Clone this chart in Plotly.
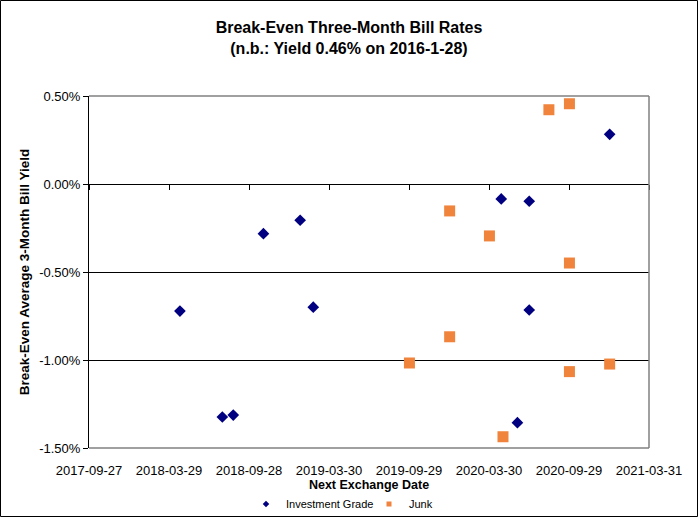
import plotly.graph_objects as go

# Data
ig_dates = ["2018-04-23", "2018-07-29", "2018-08-23", "2018-10-31", "2019-01-23",
            "2019-02-22", "2020-04-27", "2020-06-30", "2020-06-30", "2020-06-03",
            "2020-12-31"]
ig_yield = [-0.722, -1.324, -1.313, -0.282, -0.206, -0.700, -0.085, -0.098,
            -0.716, -1.356, 0.282]

junk_dates = ["2019-09-30", "2019-12-31", "2019-12-31", "2020-03-31", "2020-05-01",
              "2020-08-14", "2020-09-30", "2020-09-30", "2020-09-30", "2020-12-31"]
junk_yield = [-1.017, -0.153, -0.868, -0.295, -1.436, 0.422, 0.456, -0.449,
              -1.066, -1.023]

x_ticks = ["2017-09-27", "2018-03-29", "2018-09-28", "2019-03-30", "2019-09-29",
           "2020-03-30", "2020-09-29", "2021-03-31"]
y_ticks = [0.5, 0.0, -0.5, -1.0, -1.5]
y_tick_text = ["0.50%", "0.00%", "-0.50%", "-1.00%", "-1.50%"]

NAVY = "#000080"
ORANGE = "#F0843C"
FONT = "Liberation Sans, Arial, sans-serif"

fig = go.Figure()
fig.add_trace(go.Scatter(x=ig_dates, y=ig_yield, mode="markers", name="Investment Grade",
                         marker=dict(symbol="diamond", size=9, color=NAVY),
                         showlegend=False, xaxis="x2"))
fig.add_trace(go.Scatter(x=junk_dates, y=junk_yield, mode="markers", name="Junk",
                         marker=dict(symbol="square", size=11, color=ORANGE),
                         showlegend=False, xaxis="x2"))
# legend entries with small markers
fig.add_trace(go.Scatter(x=[None], y=[None], mode="markers", name="Investment Grade",
                         marker=dict(symbol="diamond", size=5, color=NAVY)))
fig.add_trace(go.Scatter(x=[None], y=[None], mode="markers", name="Junk",
                         marker=dict(symbol="square", size=5, color=ORANGE)))

L, R, T, B = 89, 649, 96, 448
W, H = 698, 517
pw, ph = R - L, B - T
zero_pos = (B - 184) / ph

def px_x(p):
    return (p - L) / pw

def px_y(p):
    return (B - p) / ph

x_range = [x_ticks[0], x_ticks[-1]]

fig.update_layout(
    width=W, height=H,
    margin=dict(l=L, r=W - R, t=T, b=H - B, pad=0, autoexpand=False),
    paper_bgcolor="white", plot_bgcolor="white",
    font=dict(family=FONT, size=13, color="black"),
    title=dict(text="<b>Break-Even Three-Month Bill Rates<br>(n.b.: Yield 0.46% on 2016-1-28)</b>",
               x=0.5, xanchor="center", y=1 - 33 / H, yanchor="middle",
               font=dict(size=16, color="black")),
    xaxis=dict(type="date", range=x_range, automargin=False,
               tickmode="array", tickvals=x_ticks, ticktext=x_ticks,
               showgrid=False, zeroline=False, showline=False,
               ticks="outside", ticklen=10, tickcolor="rgba(0,0,0,0)",
               tickfont=dict(size=13),
               title=dict(text="<b>Next Exchange Date</b>", font=dict(size=12.5), standoff=3)),
    xaxis2=dict(type="date", range=x_range, overlaying="x", anchor="free", position=zero_pos,
                automargin=False, tickmode="array", tickvals=x_ticks,
                showticklabels=False, showgrid=False, zeroline=False,
                showline=True, linecolor="black", linewidth=1,
                ticks="outside", ticklen=5, tickwidth=1, tickcolor="black", side="bottom"),
    yaxis=dict(range=[-1.5, 0.5], automargin=False,
               tickmode="array", tickvals=y_ticks, ticktext=y_tick_text,
               showgrid=True, gridcolor="black", gridwidth=1, zeroline=False,
               showline=True, linecolor="black", linewidth=1,
               ticks="outside", ticklen=5, tickcolor="black",
               tickfont=dict(size=13),
               title=dict(text="<b>Break-Even Average 3-Month Bill Yield</b>",
                          font=dict(size=13.5), standoff=6)),
    legend=dict(orientation="h", x=0.5, xanchor="center", y=px_y(504), yanchor="middle",
                font=dict(size=11), tracegroupgap=0, entrywidth=78, entrywidthmode="pixels",
                bgcolor="rgba(0,0,0,0)"),
    shapes=[
        dict(type="line", xref="paper", yref="paper", x0=0, x1=1, y0=1, y1=1,
             line=dict(color="#808080", width=1.5), layer="above"),
        dict(type="line", xref="paper", yref="paper", x0=1, x1=1, y0=0, y1=1,
             line=dict(color="#808080", width=1.5), layer="above"),
        dict(type="line", xref="paper", yref="paper", x0=0, x1=1, y0=0, y1=0,
             line=dict(color="#808080", width=1.5), layer="above"),
        dict(type="rect", xref="paper", yref="paper",
             x0=px_x(0.5), x1=px_x(W - 0.5), y0=px_y(H - 0.5), y1=px_y(0.5),
             line=dict(color="black", width=1), layer="above"),
    ],
)

fig.write_html("out.html", config={"displayModeBar": False},
               post_script="document.body.style.margin='0';")
